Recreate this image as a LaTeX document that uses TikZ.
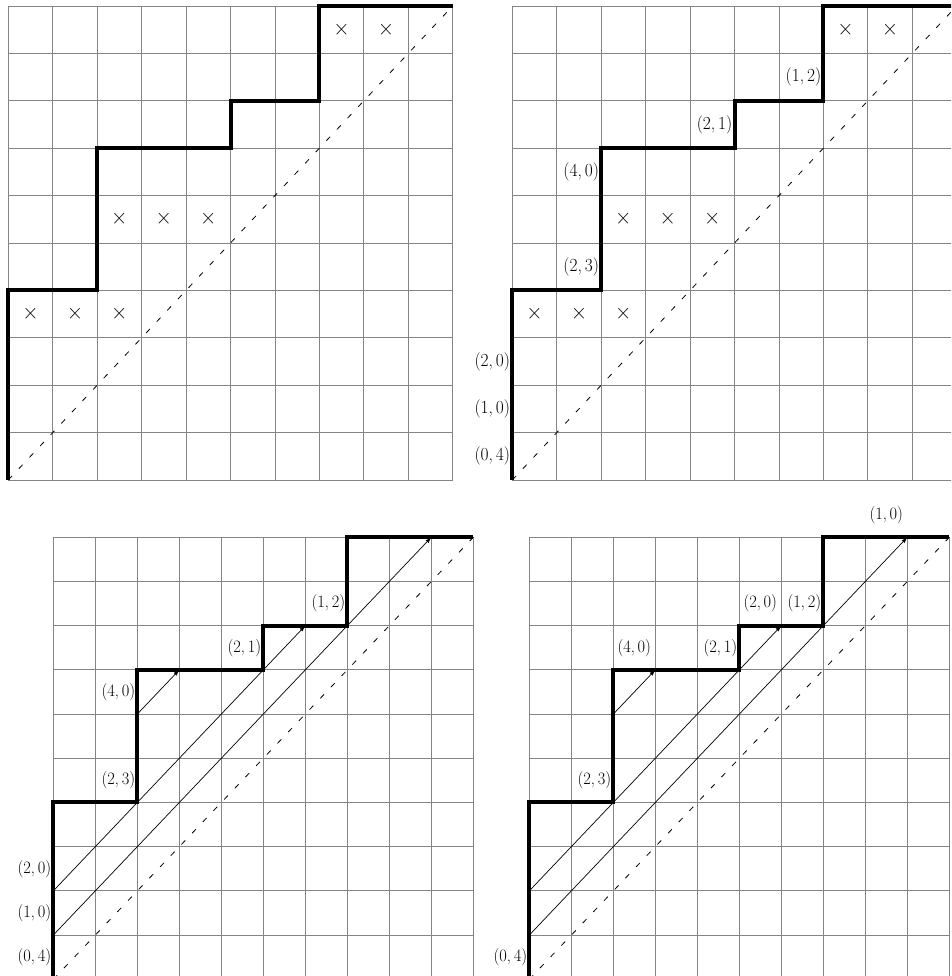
\documentclass[tikz,border=0pt]{standalone}
\usepackage{fontspec}
\usepackage{graphicx}
\usetikzlibrary{arrows.meta}
\newcommand{\tfont}{\fontsize{17.4}{20}\selectfont}
\newcommand{\bfont}{\fontsize{16.4}{19}\selectfont}
\newcommand{\tcross}{\fontsize{22}{24}\selectfont}
\newcommand{\lab}[2]{\scalebox{1}[1.06]{(#1,\,#2)}}
\tikzset{
  gridln/.style={draw=black!48, line width=0.8pt},
  diagln/.style={draw=black, line width=0.8pt, dash pattern=on 5.5pt off 10pt},
  dyck/.style={draw=black, line width=4pt},
  vecln/.style={draw=black, line width=0.7pt, -{Latex[length=6pt,width=4pt]}},
  lblw/.style={anchor=east, inner sep=2pt},
  lblc/.style={inner sep=0pt},
  crs/.style={inner sep=0pt, font=\tcross},
}
\newcommand{\panelgrid}{%
  \foreach \k in {0,...,10} {
    \draw[gridln] (\k,0) -- (\k,10);
    \draw[gridln] (0,\k) -- (10,\k);
  }
  \draw[diagln] (0,0) -- (10,10);
}
\newcommand{\panelpath}{%
  \draw[dyck] (0,0) -- (0,4) -- (2,4) -- (2,7) -- (5,7) -- (5,8) -- (7,8) -- (7,10) -- (10,10);
}
\newcommand{\panelcross}{%
  \foreach \p [count=\i] in {(0.5,3.5),(1.5,3.5),(2.5,3.5),(2.5,5.5),(3.5,5.5),(4.5,5.5),(7.5,9.5),(8.5,9.5)}
    \node[crs] (x\i) at \p {\scalebox{1}[1.06]{×}};
}
\newcommand{\panelvec}{%
  \coordinate (a0) at (0,2); \coordinate (a1) at (6,8);
  \coordinate (b0) at (2,6); \coordinate (b1) at (3,7);
  \coordinate (c0) at (0,1); \coordinate (c1) at (9,10);
  \draw[vecln] (a0) -- (a1);
  \draw[vecln] (b0) -- (b1);
  \draw[vecln] (c0) -- (c1);
}
\begin{document}
\begin{tikzpicture}
\useasboundingbox (0,0) rectangle (951pt,976pt);
\clip (0,0) rectangle (951pt,976pt);

% top-left
\begin{scope}[shift={(8.3pt,496pt)}, x=44.44pt, y=47.4pt]
  \panelgrid
  \panelcross
  \panelpath
\end{scope}

% top-right
\begin{scope}[shift={(512.3pt,496pt)}, x=44.44pt, y=47.4pt, every node/.append style={font=\tfont}]
  \panelgrid
  \panelcross
  \panelpath
  \node[lblw] (t1) at (0,0.5) {\lab{0}{4}};
  \node[lblw] (t2) at (0,1.5) {\lab{1}{0}};
  \node[lblw] (t3) at (0,2.5) {\lab{2}{0}};
  \node[lblw] (t4) at (2,4.5) {\lab{2}{3}};
  \node[lblw] (t5) at (2,6.5) {\lab{4}{0}};
  \node[lblw] (t6) at (5,7.5) {\lab{2}{1}};
  \node[lblw] (t7) at (7,8.5) {\lab{1}{2}};
\end{scope}

% bottom-left
\begin{scope}[shift={(53.3pt,-3.3pt)}, x=42pt, y=44.2pt, every node/.append style={font=\bfont}]
  \panelgrid
  \panelvec
  \panelpath
  \node[lblw] (l1) at (0,0.5) {\lab{0}{4}};
  \node[lblw] (l2) at (0,1.5) {\lab{1}{0}};
  \node[lblw] (l3) at (0,2.5) {\lab{2}{0}};
  \node[lblw] (l4) at (2,4.5) {\lab{2}{3}};
  \node[lblw] (l5) at (2,6.5) {\lab{4}{0}};
  \node[lblw] (l6) at (5,7.5) {\lab{2}{1}};
  \node[lblw] (l7) at (7,8.5) {\lab{1}{2}};
\end{scope}

% bottom-right
\begin{scope}[shift={(529.3pt,-3.3pt)}, x=42pt, y=44.2pt, every node/.append style={font=\bfont}]
  \panelgrid
  \panelvec
  \panelpath
  \node[lblw] (r1) at (0,0.5) {\lab{0}{4}};
  \node[lblw] (r2) at (2,4.5) {\lab{2}{3}};
  \node[lblc] (r3) at (2.5,7.5) {\lab{4}{0}};
  \node[lblw] (r4) at (5,7.5) {\lab{2}{1}};
  \node[lblc] (r5) at (5.5,8.5) {\lab{2}{0}};
  \node[lblw] (r6) at (7,8.5) {\lab{1}{2}};
  \node[lblc] (r7) at (8.5,10.5) {\lab{1}{0}};
\end{scope}
\end{tikzpicture}
\end{document}
